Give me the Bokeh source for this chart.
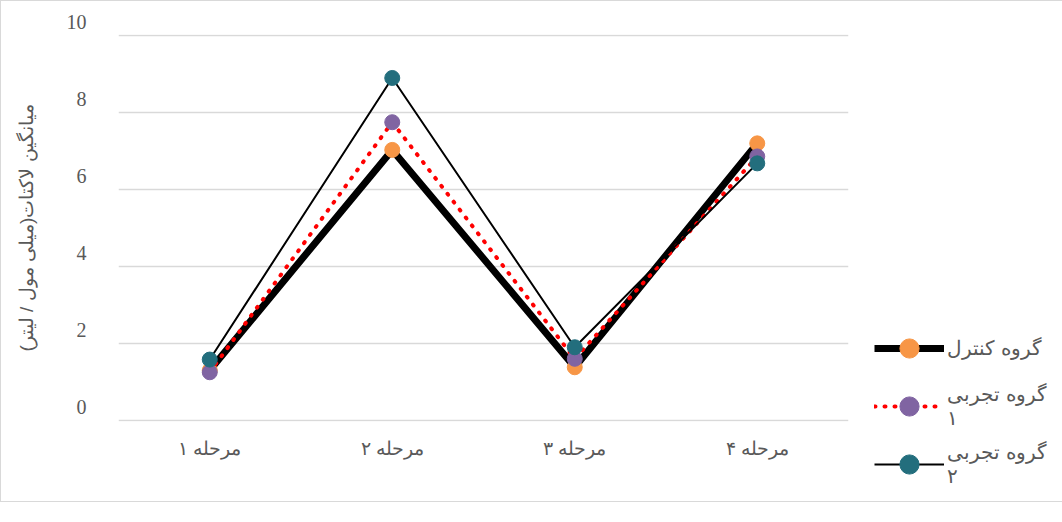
from bokeh.plotting import figure
from bokeh.models import Legend, LegendItem, FixedTicker, ColumnDataSource
from bokeh.embed import file_html
from bokeh.resources import INLINE

stages = ["مرحله ۱", "مرحله ۲", "مرحله ۳", "مرحله ۴"]
control = [1.30, 7.03, 1.38, 7.20]
exp1 = [1.25, 7.75, 1.60, 6.86]
exp2 = [1.58, 8.90, 1.90, 6.68]
series_names = ["گروه کنترل", "گروه تجربی\n۱", "گروه تجربی\n۲"]
y_title = "\u200eمیانگین لاکتات(میلی مول / لیتر)"
y_ticks = [0, 2, 4, 6, 8, 10]

p = figure(x_range=stages, y_range=(-0.03, 10.03), frame_width=730, frame_height=387,
           min_border_left=117, min_border_top=33, min_border_right=10, min_border_bottom=80,
           output_backend="svg", toolbar_location=None)
p.styles = {"border": "1px solid #d9d9d9"}
p.x_range.range_padding = 0
p.outline_line_color = None
p.background_fill_color = "white"

p.xgrid.grid_line_color = None
p.ygrid.grid_line_color = "#d9d9d9"
p.ygrid.grid_line_width = 1.5
p.yaxis.ticker = FixedTicker(ticks=y_ticks)
# lift each tick label slightly above its gridline, as in the reference
p.yaxis.major_label_overrides = {t: f"{t}\n\u00a0" for t in y_ticks}

for ax in (p.xaxis, p.yaxis):
    ax.axis_line_color = None
    ax.major_tick_line_color = None
    ax.minor_tick_line_color = None
    ax.major_label_text_color = "#595959"

p.yaxis.major_label_text_font = "Liberation Serif"
p.yaxis.major_label_text_font_size = "20px"
p.yaxis.major_label_standoff = 26
p.yaxis.axis_label = y_title
p.yaxis.axis_label_text_font = "Liberation Sans"
p.yaxis.axis_label_text_font_style = "normal"
p.yaxis.axis_label_text_font_size = "19px"
p.yaxis.axis_label_text_color = "#595959"
p.yaxis.axis_label_standoff = 27

p.xaxis.major_label_text_font = "Liberation Sans"
p.xaxis.major_label_text_font_size = "19px"
p.xaxis.major_label_standoff = 10

src = ColumnDataSource(dict(x=stages, c=control, e1=exp1, e2=exp2))

l1 = p.line("x", "c", source=src, line_color="black", line_width=7, line_join="round")
m1 = p.scatter("x", "c", source=src, size=15, fill_color="#F79646", line_color="#F79646")
l2 = p.line("x", "e1", source=src, line_color="#FF0000", line_width=4, line_dash="1 9", line_cap="round")
m2 = p.scatter("x", "e1", source=src, size=15, fill_color="#8064A2", line_color="#8064A2")
l3 = p.line("x", "e2", source=src, line_color="black", line_width=2)
m3 = p.scatter("x", "e2", source=src, size=15, fill_color="#236E7D", line_color="#236E7D")

legend = Legend(items=[
    LegendItem(label=series_names[0], renderers=[l1, m1]),
    LegendItem(label=series_names[1], renderers=[l2, m2]),
    LegendItem(label=series_names[2], renderers=[l3, m3]),
], location=(26, -67))
legend.background_fill_alpha = 0
legend.border_line_color = None
legend.margin = 0
legend.padding = 0
legend.glyph_width = 70
legend.glyph_height = 48
legend.label_height = 48
legend.label_text_font = "Liberation Sans"
legend.label_text_font_size = "20px"
legend.label_text_baseline = "alphabetic"
legend.label_text_color = "#595959"
legend.spacing = 10
legend.label_standoff = 3
p.add_layout(legend, "right")

open("out.html", "w").write(file_html(p, INLINE))
